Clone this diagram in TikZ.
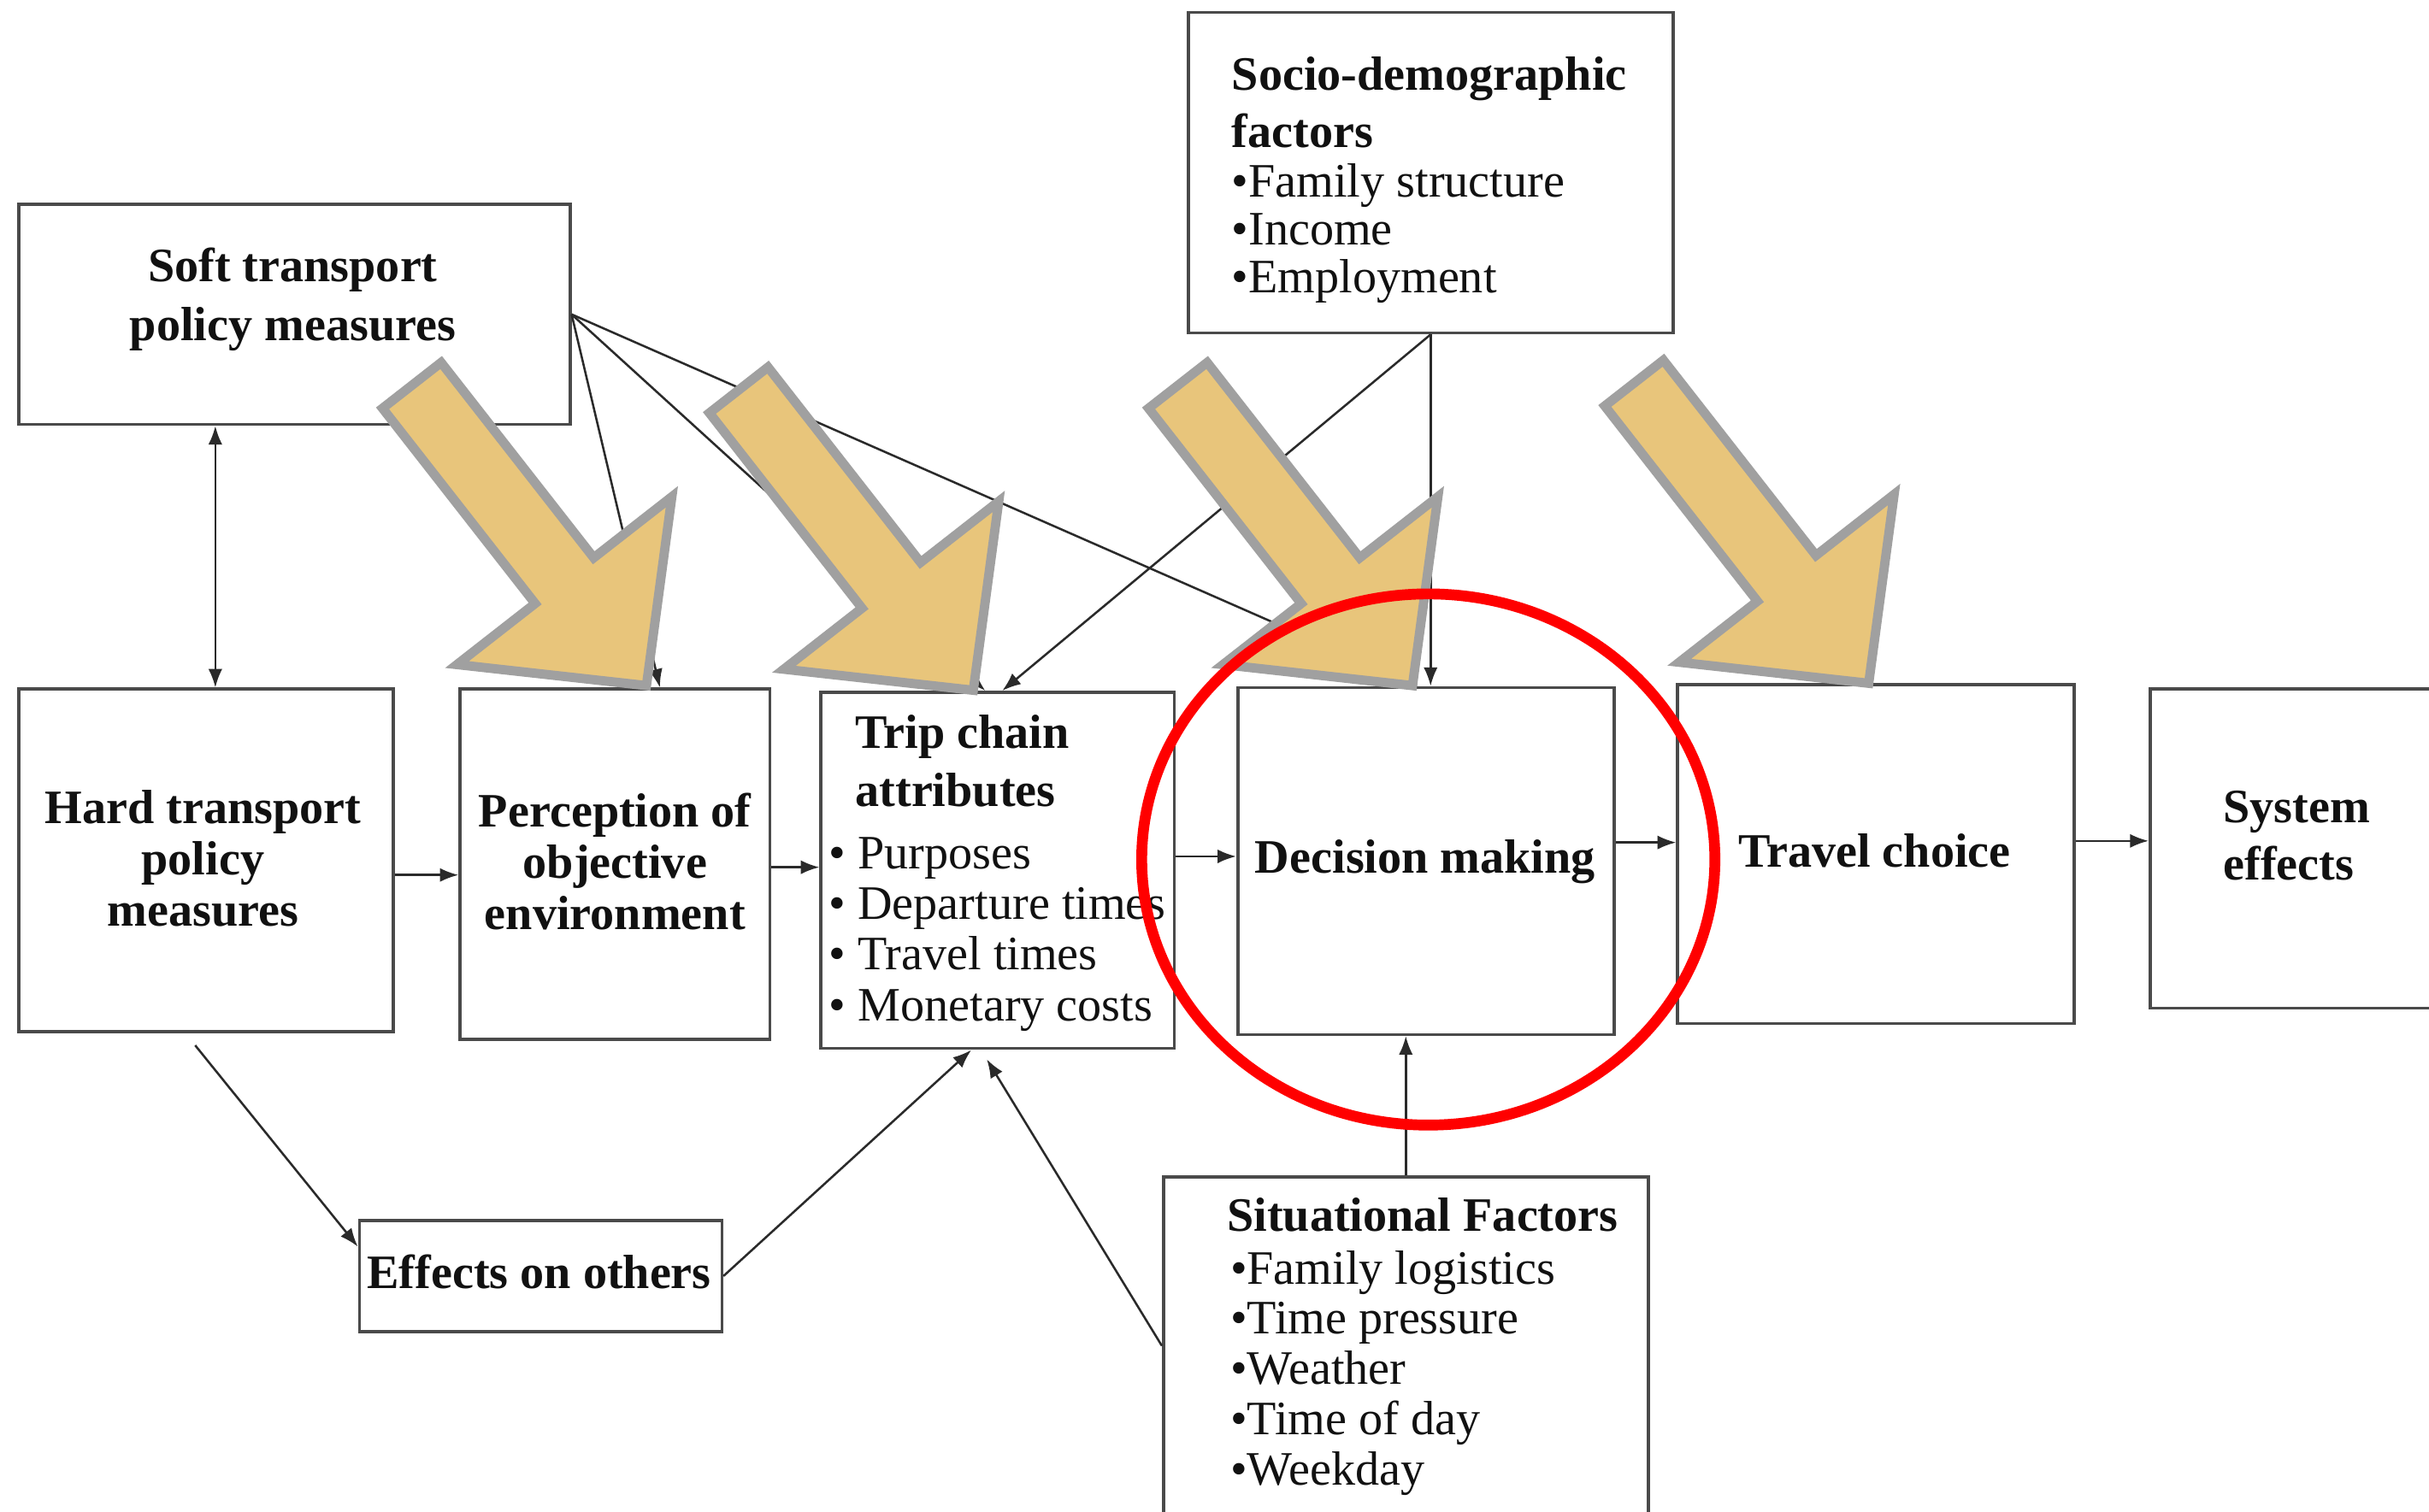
\documentclass[tikz,border=0pt]{standalone}
\usepackage{fontspec}
\setmainfont{Liberation Serif}
\usetikzlibrary{arrows.meta,calc}
\definecolor{boxline}{HTML}{4A4A4A}
\definecolor{conline}{HTML}{2A2A2A}
\definecolor{goldfill}{HTML}{E8C57B}
\definecolor{goldedge}{HTML}{A0A0A0}
\definecolor{ink}{HTML}{111111}
\begin{document}
\begin{tikzpicture}[x=1pt,y=-1pt,
  >={Latex[length=12pt,width=9pt]},
  box/.style={draw=boxline, line width=2pt, fill=white, inner sep=0pt},
  hd/.style={font=\fontsize{31}{31}\selectfont\bfseries, text=ink, inner sep=0pt},
  tx/.style={font=\fontsize{31}{31}\selectfont, text=ink, inner sep=0pt},
  conn/.style={draw=conline, line width=1.4pt, ->},
  bigarrow/.style={fill=goldfill, draw=goldedge, line width=6pt, line join=miter, miter limit=20},
  focus/.style={draw=red, line width=7pt}]

\useasboundingbox (0,0) rectangle (1568,976);
\clip (0,0) rectangle (1568,976);
\fill[white] (0,0) rectangle (1568,976);

% ---------- boxes ----------
\node[box, minimum width=356pt, minimum height=142pt] (soft)   at (190,203)    {};
\node[box, minimum width=313pt, minimum height=207pt] (socio)  at (923.5,111.5) {};
\node[box, minimum width=242pt, minimum height=221pt] (hard)   at (133,555.5)  {};
\node[box, minimum width=200pt, minimum height=226pt] (perc)   at (397,558)    {};
\node[box, minimum width=228pt, minimum height=230pt] (trip)   at (644,562)    {};
\node[box, minimum width=243pt, minimum height=224pt] (dec)    at (920.5,556)  {};
\node[box, minimum width=256pt, minimum height=219pt] (travel) at (1211,551.5) {};
\node[box, minimum width=187pt, minimum height=206pt] (system) at (1481.5,548) {};
\node[box, minimum width=234pt, minimum height=72pt]  (effects) at (349,824)   {};
\node[box, minimum width=313pt, minimum height=230pt] (situ)   at (907.5,875)  {};

% ---------- texts ----------
\foreach \t [count=\i] in {Soft transport, policy measures}
  \node[hd, anchor=base] (soft-t\i) at (189,{182+38*(\i-1)}) {\t};

\node[hd, anchor=base west] (socio-t1) at (795,58) {Socio-demographic};
\node[hd, anchor=base west] (socio-t2) at (795,95) {factors};
\foreach \t [count=\i] in {Family structure, Income, Employment}
  \node[tx, anchor=base west] (socio-b\i) at (795,{127+31*(\i-1)}) {•\t};

\foreach \t [count=\i] in {Hard transport, policy, measures}
  \node[hd, anchor=base] (hard-t\i) at (131,{532+33*(\i-1)}) {\t};

\foreach \t [count=\i] in {Perception of, objective, environment}
  \node[hd, anchor=base] (perc-t\i) at (397,{534+33*(\i-1)}) {\t};

\node[hd, anchor=base west] (trip-t1) at (552,483) {Trip chain};
\node[hd, anchor=base west] (trip-t2) at (552,521) {attributes};
\foreach \t [count=\i] in {Purposes, Departure times, Travel times, Monetary costs}
  \node[tx, anchor=base west] (trip-b\i) at (535,{561+32.7*(\i-1)}) {• \t};

\node[hd, anchor=base] (dec-t)    at (920,564)  {Decision making};
\node[hd, anchor=base] (travel-t) at (1210,560) {Travel choice};
\node[hd, anchor=base west] (system-t1) at (1435,531) {System};
\node[hd, anchor=base west] (system-t2) at (1435,568) {effects};
\node[hd, anchor=base] (effects-t) at (348,832) {Effects on others};

\node[hd, anchor=base west] (situ-t) at (792,795) {Situational Factors};
\foreach \t [count=\i] in {Family logistics, Time pressure, Weather, Time of day, Weekday}
  \node[tx, anchor=base west] (situ-b\i) at (794,{829+32.5*(\i-1)}) {•\t};

% ---------- connectors ----------
\draw[conn, <->] ([xshift=128pt]soft.south west) -- ([xshift=128pt]hard.north west);
\draw[conn] (soft.east) -- ([xshift=29pt]perc.north);
\draw[conn] (soft.east) -- ([xshift=-8pt]trip.north);
\draw[conn] (soft.east) -- ([xshift=-5pt]dec.north);
\draw[conn] (socio.south) -- ([xshift=3pt]trip.north);
\draw[conn] (socio.south) -- (socio.south |- dec.north);
\draw[conn] ([yshift=-9.5pt]hard.east) -- ([yshift=-9.5pt]hard.east -| perc.west);
\draw[conn] ([yshift=-2pt]perc.east) -- ([yshift=-2pt]perc.east -| trip.west);
\draw[conn] ([yshift=9pt]trip.east) -- ([yshift=9pt]trip.east -| dec.west);
\draw[conn] ([yshift=12pt]dec.east) -- ([yshift=12pt]dec.east -| travel.west);
\draw[conn] ([yshift=8.5pt]travel.east) -- ([yshift=8.5pt]travel.east -| system.west);
\draw[conn] ([xshift=-7pt,yshift=-8pt]hard.south) -- ([yshift=-18pt]effects.north west);
\draw[conn] (effects.east) -- ([xshift=-17pt]trip.south);
\draw[conn] ([yshift=6pt]situ.west) -- ([xshift=-7pt,yshift=-6pt]trip.south);
\draw[conn] (situ.north) -- (situ.north |- dec.south);

% ---------- big block arrows ----------
\foreach \p in {(264,246.5), (475,249.5), (758.5,246.5), (1053,245)}
  \draw[bigarrow, shift={\p}, rotate=-52]
    (3,24) -- (163,24) -- (163,88) -- (249,0) -- (163,-88) -- (163,-24) -- (3,-24) -- cycle;

% ---------- highlight ----------
\draw[focus] (922,555) ellipse [x radius=185pt, y radius=171.5pt];
\end{tikzpicture}
\end{document}
